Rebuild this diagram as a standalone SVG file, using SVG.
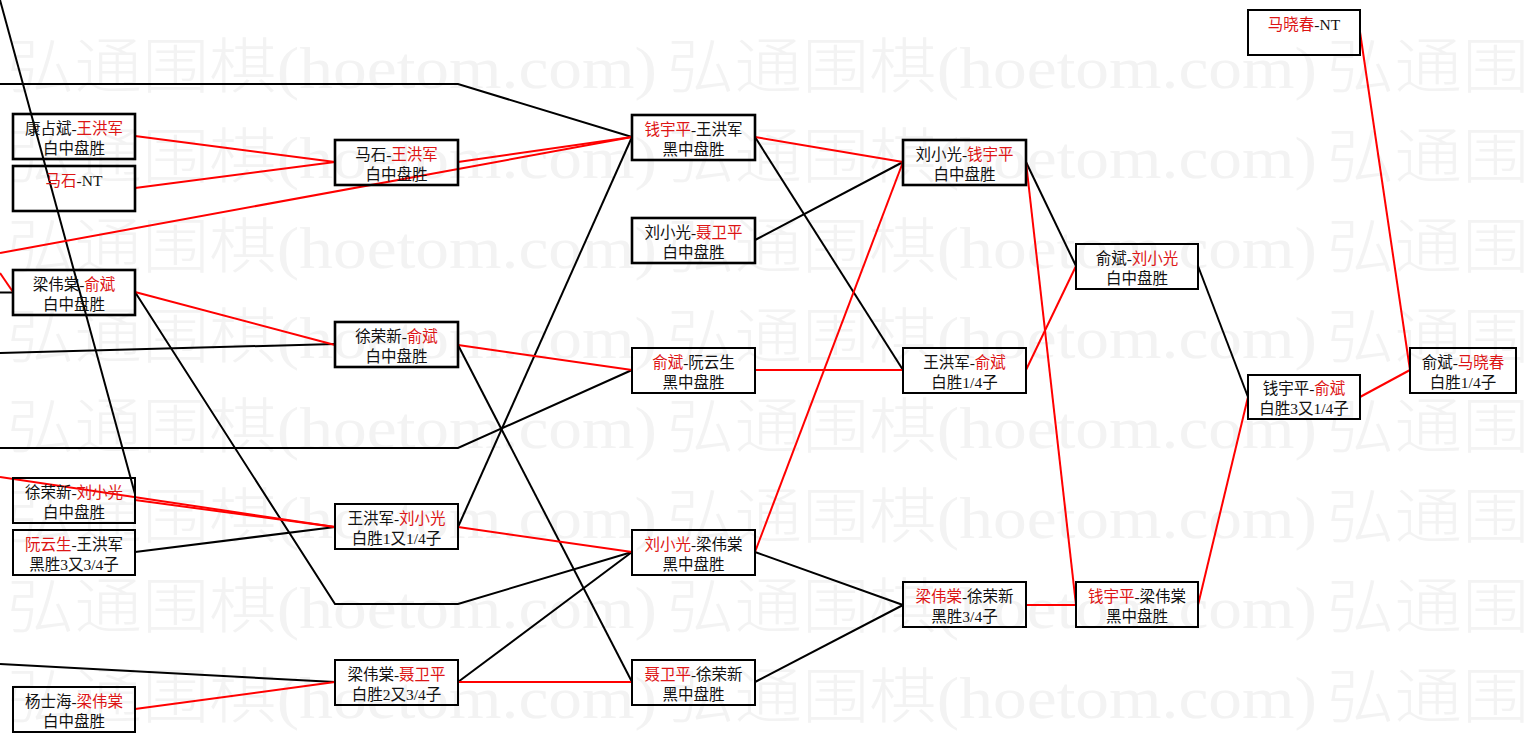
<svg xmlns="http://www.w3.org/2000/svg" xmlns:xlink="http://www.w3.org/1999/xlink" width="1527" height="741" viewBox="0 0 1527 741">
<style>
.bg{fill:#ffffff}
.wm{fill:#f3f3f3;font-family:"Liberation Serif","Noto Sans CJK SC",serif;font-size:60px;font-weight:300}
.box{fill:none;stroke:#000;stroke-width:2}
.bx{fill:none;stroke:#000;stroke-width:2.6}
.t{font-family:"Liberation Serif","Noto Sans CJK SC",serif;font-size:15.5px;fill:#111;text-anchor:middle}
.r{fill:#dd1515}
.k{fill:none;stroke:#000;stroke-width:2}
.rd{fill:none;stroke:#ff0000;stroke-width:2}
</style>
<defs>
<text id="wm" class="wm" x="0" y="0" textLength="650" lengthAdjust="spacingAndGlyphs">弘通围棋(hoetom.com)</text>
</defs>
<rect class="bg" x="0" y="0" width="1527" height="741"/>
<g id="watermark">
<use xlink:href="#wm" x="7" y="88"/><use xlink:href="#wm" x="667" y="88"/><use xlink:href="#wm" x="1327" y="88"/>
<use xlink:href="#wm" x="7" y="178"/><use xlink:href="#wm" x="667" y="178"/><use xlink:href="#wm" x="1327" y="178"/>
<use xlink:href="#wm" x="7" y="268"/><use xlink:href="#wm" x="667" y="268"/><use xlink:href="#wm" x="1327" y="268"/>
<use xlink:href="#wm" x="7" y="358"/><use xlink:href="#wm" x="667" y="358"/><use xlink:href="#wm" x="1327" y="358"/>
<use xlink:href="#wm" x="7" y="448"/><use xlink:href="#wm" x="667" y="448"/><use xlink:href="#wm" x="1327" y="448"/>
<use xlink:href="#wm" x="7" y="538"/><use xlink:href="#wm" x="667" y="538"/><use xlink:href="#wm" x="1327" y="538"/>
<use xlink:href="#wm" x="7" y="628"/><use xlink:href="#wm" x="667" y="628"/><use xlink:href="#wm" x="1327" y="628"/>
<use xlink:href="#wm" x="7" y="718"/><use xlink:href="#wm" x="667" y="718"/><use xlink:href="#wm" x="1327" y="718"/>
</g>
<g id="connectors">
<line class="k" x1="0" y1="0" x2="135" y2="494"/>
<polyline class="k" points="0,84 458,84 632,137"/>
<line class="k" x1="0" y1="292.5" x2="13" y2="292.5"/>
<line class="k" x1="0" y1="353" x2="335" y2="344"/>
<polyline class="k" points="0,448 458,448 632,370"/>
<line class="k" x1="135" y1="552" x2="335" y2="527"/>
<line class="k" x1="0" y1="664" x2="335" y2="682"/>
<polyline class="k" points="135,292 335,604 458,604 632,552"/>
<line class="k" x1="458" y1="345" x2="632" y2="682"/>
<line class="k" x1="458" y1="527" x2="632" y2="137"/>
<line class="k" x1="458" y1="682" x2="632" y2="552"/>
<line class="k" x1="755" y1="137" x2="903" y2="370"/>
<line class="k" x1="755" y1="240" x2="903" y2="162"/>
<line class="k" x1="755" y1="552" x2="903" y2="605"/>
<line class="k" x1="755" y1="682" x2="903" y2="605"/>
<line class="k" x1="1026" y1="162" x2="1076" y2="266"/>
<line class="k" x1="1198" y1="266" x2="1248" y2="397"/>
<line class="rd" x1="0" y1="273" x2="13" y2="292"/>
<line class="rd" x1="135" y1="136" x2="335" y2="162"/>
<line class="rd" x1="135" y1="188" x2="335" y2="162"/>
<line class="rd" x1="458" y1="162" x2="632" y2="137"/>
<line class="rd" x1="0" y1="253" x2="632" y2="137"/>
<line class="rd" x1="135" y1="292" x2="335" y2="345"/>
<line class="rd" x1="458" y1="345" x2="632" y2="370"/>
<line class="rd" x1="0" y1="477" x2="335" y2="527"/>
<line class="rd" x1="135" y1="500" x2="335" y2="527"/>
<line class="rd" x1="458" y1="527" x2="632" y2="552"/>
<line class="rd" x1="135" y1="709" x2="335" y2="682"/>
<line class="rd" x1="458" y1="682" x2="632" y2="682"/>
<line class="rd" x1="755" y1="137" x2="903" y2="162"/>
<line class="rd" x1="755" y1="370" x2="903" y2="370"/>
<line class="rd" x1="755" y1="552" x2="903" y2="162"/>
<line class="rd" x1="1026" y1="162" x2="1076" y2="605"/>
<line class="rd" x1="1026" y1="370" x2="1076" y2="266"/>
<line class="rd" x1="1026" y1="605" x2="1076" y2="605"/>
<line class="rd" x1="1198" y1="605" x2="1248" y2="397"/>
<line class="rd" x1="1360" y1="32" x2="1410" y2="370"/>
<line class="rd" x1="1360" y1="397" x2="1410" y2="370"/>
</g>
<g id="n1"><rect class="bx" x="13" y="114" width="122" height="45"/><text class="t" x="74" y="134">康占斌-<tspan class="r">王洪军</tspan></text><text class="t" x="74" y="154">白中盘胜</text></g>
<g id="n2"><rect class="bx" x="13" y="166" width="122" height="45"/><text class="t" x="74" y="186"><tspan class="r">马石</tspan>-NT</text></g>
<g id="n3"><rect class="bx" x="13" y="270" width="122" height="45"/><text class="t" x="74" y="290">梁伟棠-<tspan class="r">俞斌</tspan></text><text class="t" x="74" y="310">白中盘胜</text></g>
<g id="n4"><rect class="box" x="13" y="478" width="122" height="45"/><text class="t" x="74" y="498">徐荣新-<tspan class="r">刘小光</tspan></text><text class="t" x="74" y="518">白中盘胜</text></g>
<g id="n5"><rect class="box" x="13" y="530" width="122" height="45"/><text class="t" x="74" y="550"><tspan class="r">阮云生</tspan>-王洪军</text><text class="t" x="74" y="570">黑胜3又3/4子</text></g>
<g id="n6"><rect class="box" x="13" y="687" width="122" height="45"/><text class="t" x="74" y="707">杨士海-<tspan class="r">梁伟棠</tspan></text><text class="t" x="74" y="727">白中盘胜</text></g>
<g id="m1"><rect class="bx" x="335" y="140" width="123" height="45"/><text class="t" x="396.5" y="160">马石-<tspan class="r">王洪军</tspan></text><text class="t" x="396.5" y="180">白中盘胜</text></g>
<g id="m2"><rect class="bx" x="335" y="322" width="123" height="45"/><text class="t" x="396.5" y="342">徐荣新-<tspan class="r">俞斌</tspan></text><text class="t" x="396.5" y="362">白中盘胜</text></g>
<g id="m3"><rect class="box" x="335" y="504" width="123" height="45"/><text class="t" x="396.5" y="524">王洪军-<tspan class="r">刘小光</tspan></text><text class="t" x="396.5" y="544">白胜1又1/4子</text></g>
<g id="m4"><rect class="box" x="335" y="660" width="123" height="45"/><text class="t" x="396.5" y="680">梁伟棠-<tspan class="r">聂卫平</tspan></text><text class="t" x="396.5" y="700">白胜2又3/4子</text></g>
<g id="q1"><rect class="bx" x="632" y="115" width="123" height="45"/><text class="t" x="693.5" y="135"><tspan class="r">钱宇平</tspan>-王洪军</text><text class="t" x="693.5" y="155">黑中盘胜</text></g>
<g id="q2"><rect class="bx" x="632" y="218" width="123" height="45"/><text class="t" x="693.5" y="238">刘小光-<tspan class="r">聂卫平</tspan></text><text class="t" x="693.5" y="258">白中盘胜</text></g>
<g id="q3"><rect class="box" x="632" y="348" width="123" height="45"/><text class="t" x="693.5" y="368"><tspan class="r">俞斌</tspan>-阮云生</text><text class="t" x="693.5" y="388">黑中盘胜</text></g>
<g id="q4"><rect class="box" x="632" y="530" width="123" height="45"/><text class="t" x="693.5" y="550"><tspan class="r">刘小光</tspan>-梁伟棠</text><text class="t" x="693.5" y="570">黑中盘胜</text></g>
<g id="q5"><rect class="box" x="632" y="660" width="123" height="45"/><text class="t" x="693.5" y="680"><tspan class="r">聂卫平</tspan>-徐荣新</text><text class="t" x="693.5" y="700">黑中盘胜</text></g>
<g id="s1"><rect class="bx" x="903" y="140" width="123" height="45"/><text class="t" x="964.5" y="160">刘小光-<tspan class="r">钱宇平</tspan></text><text class="t" x="964.5" y="180">白中盘胜</text></g>
<g id="s2"><rect class="box" x="903" y="348" width="123" height="45"/><text class="t" x="964.5" y="368">王洪军-<tspan class="r">俞斌</tspan></text><text class="t" x="964.5" y="388">白胜1/4子</text></g>
<g id="s3"><rect class="box" x="903" y="582" width="123" height="45"/><text class="t" x="964.5" y="602"><tspan class="r">梁伟棠</tspan>-徐荣新</text><text class="t" x="964.5" y="622">黑胜3/4子</text></g>
<g id="t1"><rect class="box" x="1076" y="244" width="122" height="45"/><text class="t" x="1137" y="264">俞斌-<tspan class="r">刘小光</tspan></text><text class="t" x="1137" y="284">白中盘胜</text></g>
<g id="t2"><rect class="box" x="1076" y="582" width="122" height="45"/><text class="t" x="1137" y="602"><tspan class="r">钱宇平</tspan>-梁伟棠</text><text class="t" x="1137" y="622">黑中盘胜</text></g>
<g id="u1"><rect class="box" x="1248" y="10" width="112" height="45"/><text class="t" x="1304" y="30"><tspan class="r">马晓春</tspan>-NT</text></g>
<g id="u2"><rect class="box" x="1248" y="375" width="112" height="44"/><text class="t" x="1304" y="394">钱宇平-<tspan class="r">俞斌</tspan></text><text class="t" x="1304" y="414">白胜3又1/4子</text></g>
<g id="v1"><rect class="box" x="1410" y="348" width="106" height="45"/><text class="t" x="1463" y="368">俞斌-<tspan class="r">马晓春</tspan></text><text class="t" x="1463" y="388">白胜1/4子</text></g>
</svg>
